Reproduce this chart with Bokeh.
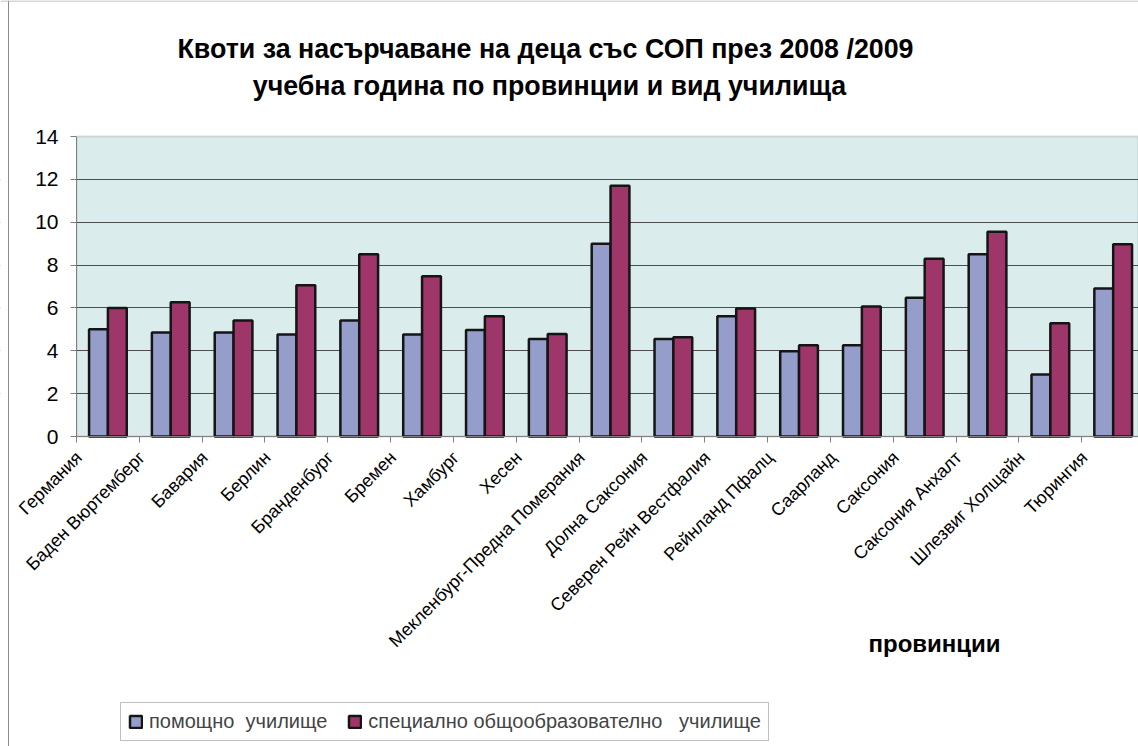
import math
from bokeh.plotting import figure
from bokeh.models import (ColumnDataSource, Range1d, FixedTicker, Legend,
                          LegendItem, Label, BoxAnnotation, Span)
from bokeh.transform import dodge
from bokeh.embed import file_html
from bokeh.resources import INLINE

# ---------------- data ----------------
provinces = [
    "Германия", "Баден Вюртемберг", "Бавария", "Берлин", "Бранденбург",
    "Бремен", "Хамбург", "Хесен", "Мекленбург-Предна Померания",
    "Долна Саксония", "Северен Рейн Вестфалия", "Рейнланд Пфалц",
    "Саарланд", "Саксония", "Саксония Анхалт", "Шлезвиг Холщайн", "Тюрингия",
]
pomoshtno = [5.0, 4.85, 4.85, 4.76, 5.41, 4.76, 4.97, 4.55, 9.0, 4.55,
             5.61, 3.98, 4.26, 6.47, 8.5, 2.89, 6.91]
specialno = [6.0, 6.27, 5.41, 7.06, 8.5, 7.48, 5.61, 4.78, 11.7, 4.63,
             5.97, 4.26, 6.07, 8.29, 9.56, 5.29, 8.97]
y_ticks = [0, 2, 4, 6, 8, 10, 12, 14]
series_names = ["помощно  училище", "специално общообразователно   училище"]
title_lines = ["Квоти за насърчаване на деца със СОП през 2008 /2009",
               "учебна година по провинции и вид училища"]
x_title = "провинции"

FONT = "Liberation Sans"
BLUE = "#959ECA"
RED = "#9E3669"

# ---------------- layout (page pixels) ----------------
W, H = 1138, 746
AREA_LEFT, AREA_TOP, AREA_BOTTOM = 76, 136, 436   # the shaded plot area
CAT_PX = 62.83                                     # width of one category
LABEL_SHIFT = 0.04       # label anchor sits just right of a category's left edge
HALF = 0.5 - LABEL_SHIFT
px_per_y = (AREA_BOTTOM - AREA_TOP) / (y_ticks[-1] - y_ticks[0])

area_x0 = -LABEL_SHIFT                          # left edge of the plot area
x_start = area_x0 - AREA_LEFT / CAT_PX          # page x = 0
x_end = area_x0 + (W - AREA_LEFT) / CAT_PX      # page x = W
y_low = y_ticks[0] - (H - AREA_BOTTOM) / px_per_y
y_high = y_ticks[0] + AREA_BOTTOM / px_per_y

idx = list(range(len(provinces)))
src = ColumnDataSource(dict(x=idx, a=pomoshtno, b=specialno))

# the frame spans the whole page, so titles, labels and legend live inside it
p = figure(width=W, height=H, output_backend="svg", toolbar_location=None,
           x_range=Range1d(x_start, x_end), y_range=Range1d(y_low, y_high),
           min_border_left=0, min_border_right=0,
           min_border_top=0, min_border_bottom=0)
p.background_fill_color = "white"
p.border_fill_color = "white"
p.outline_line_color = None

# shaded plot area between the first and last y tick
p.add_layout(BoxAnnotation(left=area_x0, bottom=y_ticks[0], top=y_ticks[-1],
                           fill_color="#DAECEC", fill_alpha=1,
                           line_color="#8C8C8C", line_width=2, level="image"))

r1 = p.vbar(x=dodge("x", HALF - 0.15, range=p.x_range), top="a", width=0.3,
            source=src, fill_color=BLUE, line_color="#151515", line_width=2.5)
r2 = p.vbar(x=dodge("x", HALF + 0.15, range=p.x_range), top="b", width=0.3,
            source=src, fill_color=RED, line_color="#151515", line_width=2.5)

p.xgrid.grid_line_color = None
p.ygrid.grid_line_color = "#4D4D4D"
p.ygrid.grid_line_width = 1.2
p.ygrid.ticker = FixedTicker(ticks=y_ticks[1:-1])
# keep the grid lines inside the plot area (mask the strip of tick labels)
p.add_layout(BoxAnnotation(right=area_x0, fill_color="white", fill_alpha=1,
                           line_color=None, level="underlay"))

yax = p.yaxis[0]
yax.fixed_location = area_x0
yax.ticker = FixedTicker(ticks=y_ticks)
yax.bounds = (y_ticks[0], y_ticks[-1])
yax.axis_line_color = "#808080"
yax.major_tick_line_color = "#808080"
yax.major_tick_in = 0
yax.major_tick_out = 6
yax.minor_tick_line_color = None
yax.major_label_text_font = FONT
yax.major_label_text_font_size = "21px"
yax.major_label_text_color = "black"
yax.major_label_standoff = 12

xax = p.xaxis[0]
xax.fixed_location = y_ticks[0]
xax.bounds = (area_x0, x_end)
xax.ticker = FixedTicker(ticks=idx, minor_ticks=[i - LABEL_SHIFT for i in idx])
xax.major_label_overrides = {i: n for i, n in zip(idx, provinces)}
xax.major_label_orientation = math.pi / 4
xax.axis_line_color = "#808080"
xax.major_tick_line_color = None
xax.minor_tick_line_color = "#808080"
xax.minor_tick_in = 0
xax.minor_tick_out = 6
xax.major_label_text_font = FONT
xax.major_label_text_font_size = "18px"
xax.major_label_text_color = "black"
xax.major_label_standoff = 12

# thin chart-area border (left and top edges of the original chart box)
p.add_layout(Span(location=x_start + 8 / CAT_PX, dimension="height",
                  line_color="#8C8C8C", line_width=1))
p.add_layout(Span(location=y_high - 0.5 / px_per_y, dimension="width",
                  line_color="#B0B0B0", line_width=1))


def page_label(text, px, baseline, size, align):
    p.add_layout(Label(x=px, y=H - baseline,
                       x_units="screen", y_units="screen", text=text,
                       text_font=FONT, text_font_style="bold",
                       text_font_size=f"{size}px", text_color="black",
                       text_align=align, text_baseline="alphabetic"))


page_label(title_lines[0], 545, 48, 26.8, "center")
page_label(title_lines[1], 549, 85, 26.8, "center")
page_label(x_title, 868, 643, 24, "left")

legend = Legend(items=[LegendItem(label=series_names[0], renderers=[r1]),
                       LegendItem(label=series_names[1], renderers=[r2])],
                orientation="horizontal", location=(120, H - 741),
                border_line_color="#808080", border_line_width=1,
                background_fill_color="white", background_fill_alpha=1,
                label_text_font=FONT, label_text_font_size="20px",
                glyph_width=15, glyph_height=15, label_standoff=6,
                spacing=20, padding=7, margin=0)
p.add_layout(legend, "center")

open("out.html", "w").write(file_html(p, INLINE))
